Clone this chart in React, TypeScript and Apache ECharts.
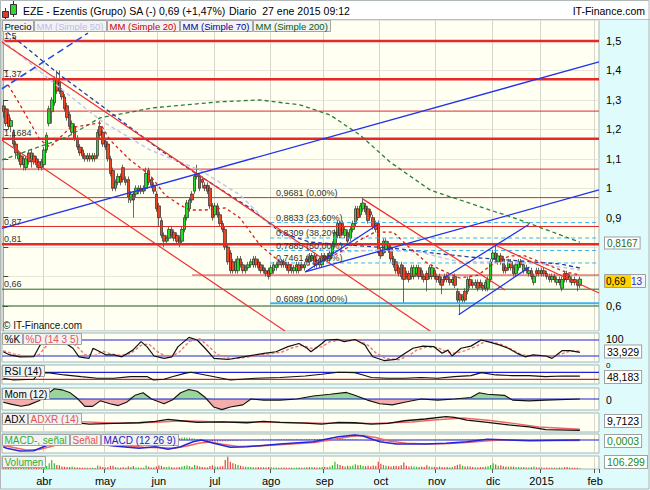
import React, { useEffect, useRef } from 'react';
import * as echarts from 'echarts';

const FONT = '"Liberation Sans", Arial, Helvetica, sans-serif';

// ---- categories (trading-day slots) ----
const SLOT_COUNT = 234;
const monthStartSlots = [16, 40, 61, 83, 105, 126, 148, 170, 192, 211, 232];
const monthLabels = ['abr', 'may', 'jun', 'jul', 'ago', 'sep', 'oct', 'nov', 'dic', '2015', 'feb'];

// ---- daily candles [open, close, low, high] ----
const candles = [
  [1.28,1.26,1.24,1.30],[1.27,1.22,1.21,1.28],[1.25,1.21,1.20,1.27],[1.21,1.23,1.19,1.24],[1.19,1.15,1.14,1.20],
  [1.15,1.12,1.10,1.16],[1.10,1.12,1.09,1.13],[1.11,1.08,1.07,1.12],[1.08,1.10,1.06,1.11],[1.07,1.10,1.06,1.11],
  [1.12,1.09,1.08,1.13],[1.09,1.12,1.07,1.13],[1.11,1.09,1.08,1.12],[1.10,1.08,1.07,1.11],[1.09,1.07,1.06,1.10],
  [1.07,1.09,1.06,1.10],[1.08,1.13,1.07,1.14],[1.13,1.18,1.12,1.19],[1.22,1.27,1.21,1.28],[1.26,1.30,1.22,1.31],
  [1.29,1.37,1.28,1.38],[1.37,1.33,1.32,1.40],[1.36,1.33,1.32,1.40],[1.33,1.31,1.30,1.34],[1.31,1.27,1.26,1.32],
  [1.28,1.24,1.23,1.29],[1.25,1.21,1.20,1.26],[1.19,1.22,1.18,1.23],[1.21,1.17,1.16,1.22],[1.17,1.14,1.13,1.18],
  [1.14,1.12,1.11,1.15],[1.13,1.11,1.10,1.14],[1.11,1.10,1.09,1.12],[1.10,1.11,1.09,1.12],[1.11,1.10,1.09,1.12],
  [1.10,1.11,1.09,1.12],[1.11,1.10,1.09,1.12],[1.11,1.19,1.10,1.20],[1.21,1.18,1.17,1.23],[1.19,1.15,1.14,1.20],
  [1.16,1.14,1.13,1.17],[1.15,1.10,1.09,1.16],[1.10,1.05,1.04,1.11],[1.06,1.00,0.99,1.07],[1.00,1.02,0.99,1.03],
  [1.02,1.04,1.01,1.05],[1.04,1.02,1.01,1.05],[1.07,1.03,1.02,1.08],[1.03,1.02,1.01,1.04],[1.03,0.97,0.95,1.04],
  [0.96,0.98,0.95,0.99],[0.98,0.96,0.90,0.99],[0.98,1.00,0.97,1.01],[0.99,1.00,0.98,1.01],[1.00,0.99,0.98,1.01],
  [0.99,1.00,0.98,1.01],[1.00,1.05,0.99,1.07],[1.06,1.02,1.01,1.07],[1.03,1.01,1.00,1.04],[1.01,0.99,0.98,1.02],
  [0.98,0.93,0.92,0.99],[0.94,0.90,0.87,0.95],[0.89,0.84,0.83,0.90],[0.84,0.82,0.80,0.85],[0.82,0.83,0.81,0.84],
  [0.83,0.86,0.82,0.87],[0.86,0.84,0.83,0.87],[0.85,0.83,0.82,0.86],[0.84,0.82,0.81,0.85],[0.83,0.81,0.80,0.84],
  [0.82,0.86,0.81,0.87],[0.86,0.90,0.85,0.91],[0.90,0.95,0.89,0.96],[0.93,0.96,0.92,0.97],[0.98,0.96,0.95,0.99],
  [0.99,1.04,0.98,1.05],[1.05,1.04,1.03,1.08],[1.04,1.00,0.99,1.05],[1.03,1.02,1.00,1.04],[1.01,1.00,0.99,1.02],
  [1.01,0.99,0.98,1.02],[1.00,0.94,0.93,1.01],[0.94,0.90,0.89,0.95],[0.91,0.94,0.90,0.95],[0.94,0.91,0.90,0.95],
  [0.91,0.88,0.87,0.92],[0.88,0.86,0.85,0.89],[0.86,0.80,0.79,0.87],[0.80,0.75,0.74,0.81],[0.78,0.72,0.71,0.79],
  [0.75,0.72,0.71,0.76],[0.72,0.75,0.71,0.76],[0.72,0.76,0.71,0.77],[0.76,0.74,0.73,0.77],[0.74,0.72,0.71,0.75],
  [0.72,0.73,0.71,0.74],[0.73,0.74,0.72,0.75],[0.74,0.75,0.73,0.76],[0.74,0.76,0.73,0.77],[0.76,0.74,0.73,0.77],
  [0.75,0.73,0.72,0.76],[0.74,0.72,0.71,0.75],[0.73,0.72,0.71,0.74],[0.72,0.71,0.70,0.73],[0.72,0.70,0.69,0.73],
  [0.71,0.73,0.70,0.74],[0.72,0.74,0.71,0.75],[0.73,0.74,0.72,0.75],[0.75,0.74,0.73,0.76],[0.74,0.75,0.73,0.76],
  [0.75,0.74,0.73,0.76],[0.74,0.73,0.72,0.75],[0.74,0.72,0.71,0.75],[0.73,0.72,0.71,0.74],[0.72,0.73,0.71,0.74],
  [0.72,0.74,0.71,0.75],[0.74,0.72,0.71,0.75],[0.74,0.73,0.72,0.75],[0.73,0.74,0.72,0.75],[0.76,0.75,0.74,0.77],
  [0.75,0.77,0.74,0.78],[0.76,0.77,0.75,0.78],[0.77,0.74,0.73,0.78],[0.75,0.74,0.73,0.76],[0.74,0.76,0.73,0.77],
  [0.74,0.77,0.73,0.78],[0.77,0.76,0.75,0.78],[0.77,0.76,0.75,0.78],[0.76,0.78,0.75,0.79],[0.78,0.81,0.77,0.82],
  [0.81,0.85,0.80,0.86],[0.84,0.88,0.83,0.89],[0.88,0.84,0.83,0.89],[0.88,0.85,0.84,0.89],[0.84,0.86,0.83,0.87],
  [0.85,0.82,0.81,0.86],[0.83,0.86,0.82,0.87],[0.86,0.88,0.85,0.89],[0.88,0.93,0.87,0.94],[0.93,0.90,0.89,0.94],
  [0.91,0.94,0.90,0.95],[0.93,0.95,0.92,0.9681],[0.94,0.92,0.91,0.95],[0.93,0.89,0.88,0.94],[0.92,0.91,0.90,0.93],
  [0.90,0.87,0.86,0.91],[0.88,0.86,0.85,0.89],[0.88,0.78,0.77,0.89],[0.79,0.77,0.76,0.80],[0.78,0.82,0.77,0.83],
  [0.79,0.82,0.78,0.83],[0.81,0.79,0.78,0.82],[0.80,0.76,0.75,0.81],[0.76,0.74,0.73,0.77],[0.75,0.72,0.71,0.76],
  [0.73,0.71,0.70,0.74],[0.74,0.70,0.69,0.75],[0.73,0.69,0.6089,0.74],[0.71,0.70,0.69,0.72],[0.71,0.69,0.68,0.72],
  [0.70,0.73,0.69,0.74],[0.70,0.73,0.69,0.74],[0.71,0.73,0.70,0.74],[0.73,0.70,0.69,0.74],[0.72,0.70,0.69,0.73],
  [0.70,0.69,0.68,0.71],[0.71,0.69,0.65,0.72],[0.70,0.73,0.69,0.74],[0.70,0.73,0.69,0.74],[0.72,0.70,0.69,0.73],
  [0.70,0.69,0.68,0.71],[0.70,0.68,0.67,0.71],[0.69,0.67,0.64,0.70],[0.70,0.69,0.68,0.71],[0.70,0.69,0.68,0.71],
  [0.69,0.68,0.67,0.70],[0.68,0.69,0.67,0.70],[0.70,0.67,0.66,0.71],[0.65,0.62,0.61,0.66],[0.64,0.62,0.57,0.65],
  [0.62,0.63,0.61,0.64],[0.65,0.62,0.61,0.66],[0.65,0.69,0.64,0.70],[0.69,0.67,0.66,0.70],[0.68,0.67,0.66,0.69],
  [0.67,0.68,0.66,0.69],[0.68,0.66,0.65,0.69],[0.68,0.67,0.66,0.69],[0.67,0.66,0.65,0.68],[0.66,0.68,0.65,0.69],
  [0.66,0.69,0.65,0.70],[0.69,0.75,0.68,0.76],[0.76,0.78,0.75,0.79],[0.78,0.76,0.75,0.807],[0.75,0.77,0.74,0.78],
  [0.77,0.75,0.74,0.78],[0.76,0.72,0.71,0.77],[0.73,0.72,0.71,0.74],[0.73,0.75,0.72,0.76],[0.75,0.73,0.72,0.76],
  [0.73,0.71,0.70,0.74],[0.71,0.74,0.70,0.75],[0.73,0.75,0.72,0.76],[0.75,0.74,0.73,0.76],[0.72,0.74,0.71,0.75],
  [0.73,0.72,0.71,0.74],[0.71,0.72,0.70,0.73],[0.72,0.70,0.69,0.73],[0.68,0.70,0.67,0.71],[0.72,0.71,0.70,0.73],
  [0.72,0.71,0.70,0.73],[0.71,0.72,0.70,0.73],[0.72,0.71,0.70,0.73],[0.71,0.70,0.69,0.72],[0.70,0.69,0.68,0.71],
  [0.69,0.70,0.68,0.71],[0.70,0.69,0.68,0.71],[0.68,0.69,0.67,0.70],[0.69,0.68,0.67,0.70],[0.66,0.69,0.65,0.70],
  [0.71,0.69,0.68,0.72],[0.71,0.69,0.68,0.72],[0.69,0.70,0.68,0.71],[0.69,0.68,0.67,0.70],[0.69,0.68,0.67,0.70],
  [0.68,0.67,0.65,0.69],[0.67,0.6913,0.66,0.70]
];

// ---- volume (thousands of shares) ----
const volumesK = [
  180,150,220,160,250,300,200,170,150,180, 160,200,140,170,150,260,420,380,700,1100,
  700,500,450,300,280,260,240,300,220,200, 180,160,140,170,150,160,130,420,350,260,
  200,220,380,400,250,200,180,220,160,300, 250,380,200,180,150,160,420,280,200,180,
  300,420,380,260,240,300,220,200,180,260, 320,380,420,350,260,480,400,300,260,220,
  200,380,450,300,280,320,350,1100,1500,900, 700,600,500,400,300,280,260,240,220,200,
  240,220,200,180,260,220,200,180,160,200, 180,160,150,170,160,200,180,160,190,220,
  260,240,200,180,220,260,240,220,300,450, 900,600,500,380,300,400,350,420,600,450,
  500,380,350,400,300,420,380,900,650,500, 400,350,300,380,400,350,450,800,400,300,
  350,300,280,250,300,260,450,320,280,260, 250,300,260,220,240,200,260,380,500,600,
  400,300,350,300,250,220,200,240,260,300, 350,500,700,550,400,450,350,300,280,320,
  300,260,240,220,250,200,180,220,300,200, 180,200,160,180,150,170,160,140,180,200,
  220,250,180,160,150,140,106.3
];

// ---- moving averages [slot, price] ----
const ma200 = [[-0.5,1.096],[10.5,1.130],[25,1.174],[37.9,1.239],[58.7,1.273],[83.8,1.293],[100.6,1.300],[116.3,1.283],[128.1,1.249],[139.8,1.181],[151.6,1.089],[167.3,0.994],[179,0.960],[202.6,0.892],[226,0.8167]];
const ma70 = [[-0.5,1.544],[22.2,1.385],[41.8,1.259],[61.4,1.130],[83.8,1.004],[96.7,0.933],[108.5,0.851],[120,0.817],[135.9,0.807],[155.5,0.794],[171.2,0.777],[186.9,0.763],[202.6,0.753],[218.2,0.743],[226,0.729]];
const ma50 = [[-0.5,1.504],[18.3,1.368],[37.9,1.232],[57.5,1.130],[77.1,1.062],[92.8,0.977],[104.6,0.875],[116.3,0.807],[132,0.783],[147.7,0.790],[163.4,0.783],[179,0.749],[194.7,0.749],[210.4,0.743],[226,0.722]];
const ma20 = [[1.9,1.351],[6.6,1.283],[14.4,1.164],[18.3,1.140],[26.2,1.205],[37.9,1.222],[41.8,1.164],[49.7,1.096],[57.5,1.045],[63.4,0.977],[69.3,0.943],[73.2,0.926],[79.1,0.926],[87,0.933],[92.8,0.899],[100.6,0.807],[108.5,0.749],[116.3,0.732],[124.2,0.749],[132,0.783],[139.8,0.824],[145.7,0.851],[152.8,0.851],[159.4,0.797],[166.1,0.746],[173.2,0.716],[179,0.695],[186.1,0.705],[192.8,0.749],[198.6,0.770],[204.5,0.770],[212.3,0.743],[220.2,0.716],[226,0.705]];

// ---- drawn trend lines [slot, price] ----
const redLines = [
  [[-0.5,1.496],[167.3,0.515]],
  [[-0.5,1.163],[110.4,0.515]],
  [[141,0.963],[196.7,0.654]],
  [[192.8,0.807],[233.5,0.644]]
];
const blueLines = [
  [[-0.5,0.864],[233.5,1.429]],
  [[118.3,0.7155],[233.5,0.994]],
  [[118.3,0.7155],[146.5,0.875]],
  [[172.7,0.695],[206,0.877]],
  [[178.5,0.57],[206.2,0.732]]
];
const blueDashed = [[-0.5,1.338],[33.2,1.527]];

// ---- horizontal levels ----
const thickLevels = [1.5, 1.37, 1.1684, 0.81];
const thinLevels = [1.262, 1.065, 0.9681, 0.87];
const supportLevel = { price: 0.705, from: 74 };
const greenLevels = [0.657, 0.60];
const fibFrom = 104.6;
const fibLevels = [0.8833, 0.8309, 0.7885, 0.7461];
const fibBase = 0.6089;
const hiddenAxisLabels = ['0,8', '0,7']; // covered by the value boxes in the original

// ---- indicators [slot, value] ----
const stochK = [[0,36],[2.6,24],[6.6,17],[12,18],[14.4,60],[17.5,95],[20.7,96],[24.6,67],[27.3,49],[29.7,17],[33.6,11],[35.2,49],[37.9,36],[40.3,24],[43.4,24],[46.5,17],[50.8,42],[54,74],[56.3,55],[59.1,20],[63,11],[66.1,17],[68.5,55],[72.8,90],[76,80],[79.1,49],[82.6,11],[88.1,7],[94,17],[98.7,24],[102.2,30],[106.9,36],[111.6,55],[115.9,67],[119.1,49],[120.6,36],[124.9,67],[126.5,80],[131.2,82],[133.6,74],[137.9,82],[141.8,61],[143.4,36],[144.9,17],[149.2,3],[153.9,7],[157.5,30],[160.6,49],[164.5,57],[168.8,55],[172,30],[174.3,42],[175.9,20],[179.4,49],[183.3,57],[187.3,80],[190,74],[194.7,61],[197.9,49],[201.4,30],[204.5,17],[207.7,24],[212.7,20],[215.1,11],[219,40],[222.2,40],[226,33.9]];
const stochD = [[0,40],[4,28],[9,18],[14,25],[18,70],[22,92],[26,78],[29,55],[32,25],[36,22],[39,38],[42,28],[46,22],[50,30],[54,60],[57,65],[61,32],[65,14],[69,35],[73,75],[77,85],[80,60],[84,25],[89,10],[95,14],[100,22],[104,28],[109,34],[113,50],[117,60],[121,48],[125,55],[128,74],[133,80],[136,78],[139,80],[143,60],[146,32],[150,10],[155,6],[159,22],[162,42],[166,54],[170,52],[174,35],[177,30],[181,40],[185,55],[189,75],[192,72],[196,60],[200,42],[203,25],[207,20],[211,22],[215,16],[218,25],[222,38],[226,38]];
const rsi = [[0,36],[4,26],[11.9,30],[13.9,64],[17.4,68],[23.9,55],[30.5,45],[36.9,36],[43.4,36],[49.9,45],[56.5,45],[58.9,26],[63,30],[66.2,45],[71.1,64],[73.5,70],[79.2,55],[85.7,36],[89,26],[98.8,36],[108.5,40],[118.3,49],[124.8,59],[131.3,70],[137.8,68],[141,55],[144.3,40],[150.8,36],[157.3,36],[163.8,40],[170.3,36],[176.8,45],[183.3,51],[187.4,68],[193.1,55],[199.6,51],[206.1,51],[212.6,45],[219.1,49],[226,48.18]];
const mom = [[0,-0.09],[3,-0.14],[7,-0.2],[10,-0.16],[14,-0.05],[17,0.12],[20,0.28],[23,0.25],[26,0.18],[29,0.02],[32,-0.2],[35,-0.2],[38,-0.05],[41.8,-0.13],[45.1,-0.18],[48.3,-0.09],[51.6,0.1],[54.8,0.17],[58.1,0],[63,-0.13],[66.2,-0.03],[69.5,0.17],[72.7,0.26],[76,0.21],[79.2,0.04],[82.5,-0.22],[85.7,-0.29],[89,-0.22],[93.9,-0.16],[97.1,0],[102,-0.03],[108.5,-0.03],[115,0],[121.5,0.08],[128.1,0.13],[134.5,0.18],[137.8,0.1],[142.7,-0.03],[147.6,-0.13],[152.5,-0.16],[157.3,-0.09],[163.8,0],[170.3,-0.03],[176.8,0],[183.3,0.04],[186.6,0.17],[189.8,0.13],[196.4,0.1],[199.6,-0.03],[206.1,-0.05],[212.6,-0.03],[226,0]];
const adx = [[0,30],[10,34],[18,33],[22.3,32.4],[27.2,27.1],[33.7,23.3],[43.4,24.9],[53.2,26.4],[59.7,29.4],[64.6,33.9],[69.5,30.9],[76,27.1],[85.7,28.6],[95.5,26.4],[102,29.4],[108.5,27.1],[118.3,25.6],[124.8,23.3],[131.3,27.1],[137.8,26.4],[144.3,23.3],[150.8,24.9],[157.3,30.9],[165.4,34.7],[173.5,40],[176.8,38.5],[181.7,32.4],[189.8,27.1],[198,21.8],[206.1,17.3],[212.6,11.2],[226,9.7123]];
const adxr = [[0,31],[20,33],[30,29],[45,25.5],[60,27.5],[70,31],[85,28],[100,28],[115,26.5],[130,25],[145,25],[160,28],[170,33],[180,37],[190,32],[200,25],[210,17],[226,12]];
const macdLine = [[0,-0.027],[1.3,-0.033],[6.6,-0.044],[11.9,-0.043],[15.8,-0.027],[20,-0.01],[25,0],[30,-0.005],[36,-0.015],[43.4,-0.024],[53.2,-0.033],[59.7,-0.027],[64.6,-0.037],[69.5,-0.027],[74.4,-0.007],[77.6,0],[82.5,-0.013],[89,-0.029],[95.5,-0.027],[108.5,-0.016],[121.5,-0.007],[131.3,0.013],[137.8,0.02],[141,0.016],[147.6,-0.007],[154.1,-0.016],[165.4,-0.016],[173.5,-0.013],[181.7,-0.007],[189.8,0.003],[198,0],[206.1,-0.003],[226,0.0003]];
const macdSignal = [[0,-0.022],[4,-0.03],[9,-0.04],[14,-0.038],[18,-0.028],[25,-0.008],[32,-0.006],[40,-0.016],[46,-0.022],[55,-0.029],[62,-0.031],[67,-0.033],[72,-0.024],[77,-0.012],[81,-0.008],[86,-0.017],[92,-0.026],[100,-0.024],[110,-0.018],[122,-0.01],[130,0.003],[136,0.014],[141,0.018],[146,0.01],[151,-0.004],[158,-0.013],[166,-0.016],[175,-0.014],[183,-0.009],[190,-0.003],[197,0.001],[206,-0.001],[226,-0.002]];
const macdHistMilli = [
  -3,-3,-3,-2,-2,-1,-1,0,0,1, 2,3,4,5,6,6,7,7,6,6, 5,4,3,2,1,0,-1,-2,-2,-3,
  -3,-3,-3,-2,-2,-2,-1,-1,-1,-1, -1,-1,-1,-1,-1,-1,-1,-1,-1,-1, 0,0,1,1,1,1,0,0,-1,-1,
  -1,-2,-2,-2,-1,0,2,4,6,8, 10,11,10,9,8,6,4,2,0,-2, -4,-5,-6,-7,-7,-6,-6,-5,-5,-4,
  -4,-3,-3,-2,-2,-1,-1,0,0,1, 1,1,2,2,2,2,2,3,3,3, 3,3,3,3,3,3,3,3,3,3,
  3,3,4,4,4,4,4,5,5,5, 5,5,5,5,4,4,4,3,3,2, 1,0,-1,-2,-3,-4,-4,-5,-5,-5,
  -5,-4,-4,-3,-3,-2,-2,-1,-1,-1, 0,0,1,1,1,1,1,1,1,1, 1,1,1,1,2,2,2,2,2,2,
  2,2,3,3,3,3,3,3,3,3, 2,2,2,2,1,1,1,1,1,0, 0,0,0,0,0,0,0,0,0,0,
  0,0,1,1,1,1,1,1,1,1, 1,1,1,1,0,0,0
];

function measure(text: string, size: number) {
  const ctx = document.createElement('canvas').getContext('2d');
  if (!ctx) return text.length * size * 0.5;
  ctx.font = `${size}px ${FONT}`;
  return ctx.measureText(text).width;
}

function txt(x: number, y: number, text: string, opts: any = {}) {
  const size = opts.size || 10;
  const style: any = {
    text, fill: opts.color || '#000', font: `${size}px ${FONT}`,
    align: opts.align || 'left', verticalAlign: 'middle'
  };
  if (opts.box) {
    style.backgroundColor = opts.bg || '#ffffff';
    style.borderColor = '#a0a0a0';
    style.borderWidth = 1;
    style.padding = [1, 2, 0, 2];
  }
  return { type: 'text', x, y, z: 120, style };
}

function tabs(x0: number, y: number, items: any[], size = 10, h = 11) {
  const els: any[] = [];
  let x = x0;
  for (const it of items) {
    const w = Math.ceil(measure(it.t, size)) + 4;
    els.push({ type: 'rect', z: 110, shape: { x: x + 0.5, y: y + 0.5, width: w, height: h }, style: { fill: '#f2f2f2', stroke: '#a4a4a4', lineWidth: 1 } });
    els.push({ type: 'text', z: 111, x: x + 2.5, y: y + 0.5 + h / 2 + 0.5, style: { text: it.t, fill: it.c, font: `${size}px ${FONT}`, verticalAlign: 'middle' } });
    x += w + 1;
  }
  return els;
}

function buildOption() {
  const isMonth = (i: number) => monthStartSlots.indexOf(i) >= 0;
  const catData = Array.from({ length: SLOT_COUNT }, (_, i) => {
    const k = monthStartSlots.indexOf(i);
    return k >= 0 ? monthLabels[k] : '';
  });

  const gridBoxes = [
    { top: 20, height: 311 },
    { top: 333, height: 29 },
    { top: 365, height: 19 },
    { top: 388, height: 22 },
    { top: 413, height: 19 },
    { top: 434, height: 19 },
    { top: 456, height: 13 }
  ];
  const grid = gridBoxes.map(g => ({ left: 2, width: 597, top: g.top, height: g.height, show: true, backgroundColor: '#fffff2', borderColor: '#a9b5b5', borderWidth: 1 }));

  const xAxis: any[] = [];
  gridBoxes.forEach((_, i) => {
    xAxis.push({
      type: 'category', gridIndex: i, data: catData, boundaryGap: true,
      axisLine: { show: false },
      axisTick: { show: i === 6, interval: (idx: number) => isMonth(idx), length: 4, lineStyle: { color: '#555' } },
      axisLabel: { show: i === 6, interval: 0, color: '#000', fontSize: 11, fontFamily: FONT, margin: 6 },
      splitLine: { show: true, interval: (idx: number) => isMonth(idx), lineStyle: { color: '#d6d6cc', width: 1 } }
    });
  });
  gridBoxes.forEach((_, i) => {
    xAxis.push({ type: 'value', gridIndex: i, min: -0.5, max: SLOT_COUNT - 0.5, show: false, splitLine: { show: false } });
  });

  const fmtPrice = (v: number) => {
    const s = String(+v.toFixed(2)).replace('.', ',');
    return hiddenAxisLabels.indexOf(s) >= 0 ? '' : s;
  };
  const yRanges = [null, [-2.5, 106.25], [3.1, 111.7], [-0.3, 0.3], [6, 48], [-0.052, 0.024], [0, 1600]];
  const yAxis: any[] = [{
    type: 'value', gridIndex: 0, position: 'right', min: 0.515, max: 1.5715, minInterval: 0.1, maxInterval: 0.1,
    axisLine: { show: true, lineStyle: { color: '#9aa' } },
    axisTick: { show: true, length: 5, lineStyle: { color: '#444' } },
    axisLabel: { formatter: fmtPrice, color: '#000', fontSize: 11, fontFamily: FONT, margin: 7, showMinLabel: false, showMaxLabel: false },
    splitLine: { show: true, lineStyle: { color: '#e6e6da' } }
  }];
  for (let i = 1; i < 7; i++) {
    const r = yRanges[i] as number[];
    yAxis.push({ type: 'value', gridIndex: i, min: r[0], max: r[1], show: false, splitLine: { show: false } });
  }

  const series: any[] = [];
  const ln = (xi: number, yi: number, data: any, lineStyle: any, z = 4) => ({
    type: 'line', xAxisIndex: xi, yAxisIndex: yi, data, symbol: 'none', silent: true, lineStyle, z, animation: false
  });

  // main panel
  series.push({
    type: 'candlestick', xAxisIndex: 0, yAxisIndex: 0, data: candles, barWidth: 3, z: 3,
    itemStyle: { color: '#22dd22', color0: '#ee4422', borderColor: '#2a2a2a', borderColor0: '#2a2a2a', borderWidth: 0.7 }
  });
  thickLevels.forEach(p => series.push(ln(7, 0, [[-0.5, p], [233.5, p]], { color: '#e62828', width: 2.5 })));
  thinLevels.forEach(p => series.push(ln(7, 0, [[-0.5, p], [233.5, p]], { color: '#dd2a2a', width: 1 })));
  series.push(ln(7, 0, [[supportLevel.from, supportLevel.price], [233.5, supportLevel.price]], { color: '#dd2a2a', width: 1 }));
  greenLevels.forEach(p => series.push(ln(7, 0, [[-0.5, p], [233.5, p]], { color: '#1f6b1f', width: 1 })));
  fibLevels.forEach(p => series.push(ln(7, 0, [[fibFrom, p], [233.5, p]], { color: '#3ab4f0', width: 1, type: [4, 3] })));
  series.push(ln(7, 0, [[fibFrom, fibBase], [233.5, fibBase]], { color: '#3ab4f0', width: 2 }));

  series.push(ln(7, 0, ma200, { color: '#2e7d3c', width: 1.3, type: [4, 3] }));
  series.push(ln(7, 0, ma70, { color: '#2040a8', width: 1.3, type: [4, 3] }));
  series.push(ln(7, 0, ma50, { color: '#c4c4f2', width: 1.5, type: [4, 3] }));
  series.push(ln(7, 0, ma20, { color: '#d42020', width: 1.3, type: [3, 3] }));

  redLines.forEach(d => series.push(ln(7, 0, d, { color: '#f03030', width: 1.2 }, 5)));
  blueLines.forEach(d => series.push(ln(7, 0, d, { color: '#2233ee', width: 1.3 }, 5)));
  series.push(ln(7, 0, blueDashed, { color: '#2a4ae8', width: 1.6, type: [7, 4] }, 5));

  // stochastic
  series.push(ln(8, 1, [[-0.5, 80], [233.5, 80]], { color: '#2020e0', width: 1.2 }, 2));
  series.push(ln(8, 1, [[-0.5, 20], [233.5, 20]], { color: '#2020e0', width: 1.2 }, 2));
  series.push(ln(8, 1, stochD, { color: '#ee7777', width: 1.4, type: [3, 2] }));
  series.push(ln(8, 1, stochK, { color: '#111', width: 1.2 }));

  // RSI
  series.push(ln(9, 2, [[-0.5, 70], [233.5, 70]], { color: '#2020e0', width: 1.2 }, 2));
  series.push(ln(9, 2, [[-0.5, 30], [233.5, 30]], { color: '#d02020', width: 1.2 }, 2));
  series.push(ln(9, 2, rsi, { color: '#111', width: 1.1 }));

  // Momentum: positive part green, negative part red
  const momPos = mom.map(([c, v]) => [c, Math.max(v, 0)]);
  const momNeg = mom.map(([c, v]) => [c, Math.min(v, 0)]);
  series.push({ type: 'line', xAxisIndex: 10, yAxisIndex: 3, data: momPos, symbol: 'none', silent: true, lineStyle: { width: 0 }, areaStyle: { color: '#8fd08f', opacity: 0.9, origin: 0 }, z: 2 });
  series.push({ type: 'line', xAxisIndex: 10, yAxisIndex: 3, data: momNeg, symbol: 'none', silent: true, lineStyle: { width: 0 }, areaStyle: { color: '#f2a4a4', opacity: 0.9, origin: 0 }, z: 2 });
  series.push(ln(10, 3, [[-0.5, 0], [233.5, 0]], { color: '#2020d0', width: 1.2 }, 3));
  series.push(ln(10, 3, mom, { color: '#111', width: 1.1 }));

  // ADX
  series.push(ln(11, 4, adxr, { color: '#ee6666', width: 1.4 }));
  series.push(ln(11, 4, adx, { color: '#111', width: 1.3 }));

  // MACD
  series.push({
    type: 'bar', xAxisIndex: 5, yAxisIndex: 5, barWidth: 1, silent: true, z: 2,
    data: macdHistMilli.map(v => ({ value: v / 1000, itemStyle: { color: v >= 0 ? '#3cc23c' : '#e06060' } }))
  });
  series.push(ln(12, 5, [[-0.5, 0], [233.5, 0]], { color: '#2020d0', width: 1.2 }, 3));
  series.push(ln(12, 5, macdSignal, { color: '#ee6666', width: 1.5 }));
  series.push(ln(12, 5, macdLine, { color: '#2525dd', width: 1.5 }));

  // Volume
  series.push({
    type: 'bar', xAxisIndex: 6, yAxisIndex: 6, barWidth: 1.2, silent: true,
    data: volumesK.map((v, i) => ({ value: v, itemStyle: { color: candles[i][1] >= candles[i][0] ? '#2fbf2f' : '#e04444' } }))
  });

  const graphic: any[] = [];
  // header
  graphic.push({ type: 'rect', z: 100, shape: { x: 0, y: 0, width: 650, height: 19.5 }, style: { fill: '#ffffff' } });
  graphic.push({ type: 'line', z: 101, shape: { x1: 0, y1: 19.5, x2: 650, y2: 19.5 }, style: { stroke: '#b8c0c0', lineWidth: 1 } });
  graphic.push({ type: 'line', z: 101, shape: { x1: 5.5, y1: 8, x2: 5.5, y2: 19 }, style: { stroke: '#333', lineWidth: 1 } });
  graphic.push({ type: 'rect', z: 102, shape: { x: 2.5, y: 11.5, width: 6, height: 6 }, style: { fill: '#e03a2a', stroke: '#333', lineWidth: 1 } });
  graphic.push({ type: 'line', z: 101, shape: { x1: 13.5, y1: 1, x2: 13.5, y2: 17 }, style: { stroke: '#333', lineWidth: 1 } });
  graphic.push({ type: 'rect', z: 102, shape: { x: 10.5, y: 4.5, width: 6, height: 10 }, style: { fill: '#33d633', stroke: '#333', lineWidth: 1 } });
  graphic.push(txt(23, 11, 'EZE - Ezentis (Grupo) SA (-)', { size: 10.5 }));
  graphic.push(txt(159, 11, '0,69 (+1,47%)', { size: 10.5 }));
  graphic.push(txt(229, 11, 'Diario  27 ene 2015 09:12', { size: 10.5 }));
  graphic.push(txt(645, 11, 'IT-Finance.com', { size: 10.5, align: 'right' }));

  // legend tabs
  graphic.push(...tabs(2, 20, [
    { t: 'Precio', c: '#000' },
    { t: 'MM (Simple 50)', c: '#bcbcec' },
    { t: 'MM (Simple 20)', c: '#cc0000' },
    { t: 'MM (Simple 70)', c: '#0000a0' },
    { t: 'MM (Simple 200)', c: '#006000' }
  ], 9.5));

  // left level labels
  const lvl = [['1,5', 36], ['1,37', 74], ['1,1684', 133], ['0,87', 222], ['0,81', 239], ['0,66', 284]];
  lvl.forEach(([t, y]) => graphic.push(txt(4, y as number, t as string, { size: 9, color: '#333' })));

  // fibonacci labels
  const fib = [['0,9681 (0,00%)', 193], ['0,8833 (23,60%)', 218], ['0,8309 (38,20%)', 233], ['0,7885 (50,00%)', 246], ['0,7461 (61,80%)', 258], ['0,6089 (100,00%)', 299]];
  fib.forEach(([t, y]) => graphic.push(txt(276, y as number, t as string, { size: 9, color: '#333' })));

  graphic.push(txt(3, 325, '\u00a9 IT-Finance.com', { size: 10, color: '#111' }));

  // right-side value boxes
  graphic.push(txt(605, 243, '0,8167', { size: 10, color: '#1a6a1a', box: true }));
  graphic.push({ type: 'rect', z: 119, shape: { x: 604.5, y: 274.5, width: 41, height: 13 }, style: { fill: '#f4f4f4', stroke: '#a0a0a0', lineWidth: 1 } });
  graphic.push({ type: 'rect', z: 120, shape: { x: 605, y: 275, width: 26, height: 12 }, style: { fill: '#ffd400' } });
  graphic.push(txt(606, 281.5, '0,69', { size: 10, color: '#000' }));
  graphic.push(txt(631, 281.5, '13', { size: 10, color: '#2030c0' }));

  // lower panel tabs
  graphic.push(...tabs(2, 333, [{ t: '%K', c: '#000' }, { t: '%D (14 3 5)', c: '#e05555' }]));
  graphic.push(...tabs(2, 365, [{ t: 'RSI (14)', c: '#000' }]));
  graphic.push(...tabs(2, 388, [{ t: 'Mom (12)', c: '#000' }]));
  graphic.push(...tabs(2, 413, [{ t: 'ADX', c: '#000' }, { t: 'ADXR (14)', c: '#e05555' }]));
  graphic.push(...tabs(2, 434, [{ t: 'MACD-, se\u00f1al', c: '#2fb02f' }, { t: 'Se\u00f1al', c: '#e05555' }, { t: 'MACD (12 26 9)', c: '#2020c0' }]));
  graphic.push(...tabs(2, 456, [{ t: 'Volumen', c: '#2fb02f' }]));

  // lower panel right labels
  graphic.push(txt(606, 339, '100', { size: 10.5 }));
  graphic.push(txt(606, 365, '0', { size: 8 }));
  graphic.push(txt(605, 351.5, '33,929', { size: 10.5, box: true }));
  graphic.push(txt(605, 377, '48,183', { size: 10.5, box: true }));
  graphic.push(txt(606, 400, '0', { size: 10.5 }));
  graphic.push(txt(605, 421, '9,7123', { size: 10.5, box: true }));
  graphic.push(txt(605, 441, '0,0003', { size: 10.5, color: '#1a8a1a', box: true }));
  graphic.push(txt(605, 462, '106.299', { size: 10.5, color: '#1a8a1a', box: true }));

  // outer frame
  graphic.push({ type: 'rect', z: 130, shape: { x: 0.5, y: 0.5, width: 648.5, height: 488.5 }, style: { fill: 'none', stroke: '#b0b8b8', lineWidth: 1 } });

  return {
    animation: false,
    backgroundColor: '#e0fbfb',
    textStyle: { fontFamily: FONT },
    grid, xAxis, yAxis, series, graphic
  };
}

export default function App() {
  const ref = useRef<HTMLDivElement>(null);
  useEffect(() => {
    if (!ref.current) return;
    const chart = echarts.init(ref.current, null, { renderer: 'svg' });
    chart.setOption(buildOption() as any);
    return () => chart.dispose();
  }, []);
  return <div ref={ref} style={{ position: 'fixed', left: 0, top: 0, width: 650, height: 490 }} />;
}
